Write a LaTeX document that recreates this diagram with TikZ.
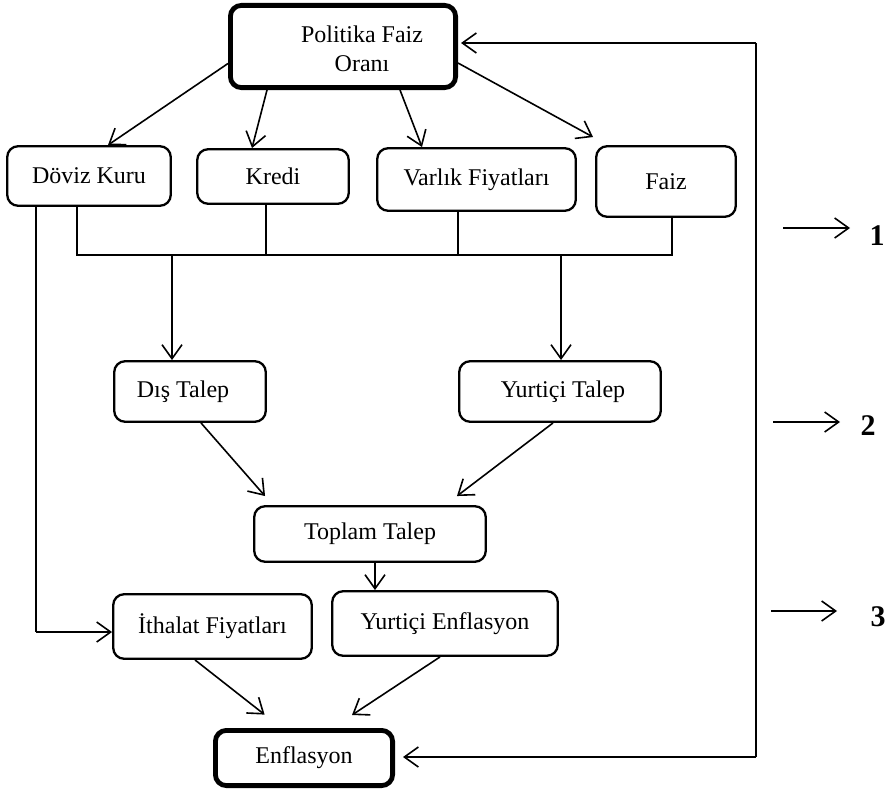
\documentclass[tikz,border=0pt]{standalone}
\usepackage{fontspec}
\setmainfont{Liberation Serif}
\usetikzlibrary{arrows.meta,calc}
\begin{document}
\begin{tikzpicture}[x=1pt,y=-1pt,
  box/.style={draw, rounded corners=11pt, line width=2.3pt, inner sep=0pt, font=\fontsize{24}{28}\selectfont},
  thickbox/.style={box, line width=4.8pt},
  conn/.style={line width=1.6pt},
  arr/.style={conn, -{Straight Barb[length=14pt,width=20pt,line width=1.6pt]}},
  num/.style={font=\fontsize{30}{34}\selectfont\bfseries},
  lbl/.style={font=\fontsize{24}{28.5}\selectfont, align=center, inner sep=0pt}
]
\useasboundingbox (0,0) rectangle (890,792);

% boxes
\node[thickbox, minimum width=225.2pt, minimum height=82.2pt] (pfo) at (343,46.5) {};
\node[lbl] (pfot) at (362,49) {Politika Faiz\\Oranı};
\node[box, minimum width=163.6pt, minimum height=59.6pt] (dk) at (89,176) {Döviz Kuru};
\node[box, minimum width=151.6pt, minimum height=54.6pt] (kr) at (273,176.5) {Kredi};
\node[box, minimum width=198.6pt, minimum height=62.6pt] (vf) at (476.5,179.5) {Varlık Fiyatları};
\node[box, minimum width=139.6pt, minimum height=70.6pt] (fz) at (666,181.5) {Faiz};
\node[box, minimum width=151.6pt, minimum height=60.6pt] (dt) at (190,391.5) {\hspace*{-14pt}Dış Talep};
\node[box, minimum width=201.6pt, minimum height=60.6pt] (yt) at (560,391.5) {\hspace*{6pt}Yurtiçi Talep};
\node[box, minimum width=231.6pt, minimum height=55.6pt] (tt) at (370,534) {Toplam Talep};
\node[box, minimum width=198.6pt, minimum height=64.6pt] (it) at (212.5,626.5) {İthalat Fiyatları};
\node[box, minimum width=225.6pt, minimum height=64.6pt] (ye) at (445,623.5) {Yurtiçi Enflasyon};
\node[thickbox, minimum width=177.2pt, minimum height=55.2pt] (en) at (304,758) {Enflasyon};

% arrows from Politika Faiz Oranı
\draw[arr] ($(pfo.west)+(0,17)$) -- ($(dk.north)+(19,0)$);
\draw[arr] ($(pfo.south)+(-76,0)$) -- ($(kr.north)+(-21,0)$);
\draw[arr] ($(pfo.south)+(57,0)$) -- ($(vf.north)+(-54.5,0)$);
\draw[arr] ($(pfo.east)+(0,16.5)$) -- ($(fz.north west)+(-2,-8)$);

% bus
\coordinate (busL) at (77,255);
\coordinate (busR) at (672,255);
\coordinate (bk) at (266,255);
\coordinate (bv) at (458,255);
\coordinate (bd) at (172,255);
\coordinate (by) at (561,255);
\draw[conn] (dk.south -| busL) -- (busL) -- (busR) -- (fz.south -| busR);
\draw[conn] (kr.south -| bk) -- (bk);
\draw[conn] (vf.south -| bv) -- (bv);
\draw[arr] (bd) -- (bd |- dt.north);
\draw[arr] (by) -- (by |- yt.north);

% demand to total
\draw[arr] ($(dt.south)+(11,0)$) -- ($(tt.north west)+(12,-9)$);
\draw[arr] ($(yt.south)+(-7,0)$) -- ($(tt.north east)+(-30,-9)$);
\draw[arr] ($(tt.south)+(5,0)$) coordinate (c1) -- (c1 |- ye.north);

% to inflation
\draw[arr] ($(it.south)+(-17.5,0)$) -- ($(en.north west)+(51.6,-13.4)$);
\draw[arr] ($(ye.south)+(-5,0)$) -- ($(en.north)+(48,-13)$);

% exchange rate to import prices
\coordinate (lk) at (36,632);
\draw[conn] (dk.south -| lk) -- (lk);
\draw[arr] (lk) -- (lk -| it.west);

% feedback
\coordinate (fbT) at (756,43);
\coordinate (fbB) at (756,757);
\draw[conn] (fbT) -- (fbB);
\draw[arr, shorten >=3pt] (fbT) -- (fbT -| pfo.east);
\draw[arr, shorten >=8pt] (fbB) -- (fbB -| en.east);

% stage markers
\coordinate (a1s) at (783,228); \coordinate (a1e) at (850,228);
\coordinate (a2s) at (773,422); \coordinate (a2e) at (840,422);
\coordinate (a3s) at (771,611); \coordinate (a3e) at (837,611);
\draw[arr] (a1s) -- (a1e);
\draw[arr] (a2s) -- (a2e);
\draw[arr] (a3s) -- (a3e);
\node[num] (n1) at (877,236) {1};
\node[num] (n2) at (868,426) {2};
\node[num] (n3) at (878,617) {3};
\end{tikzpicture}
\end{document}
